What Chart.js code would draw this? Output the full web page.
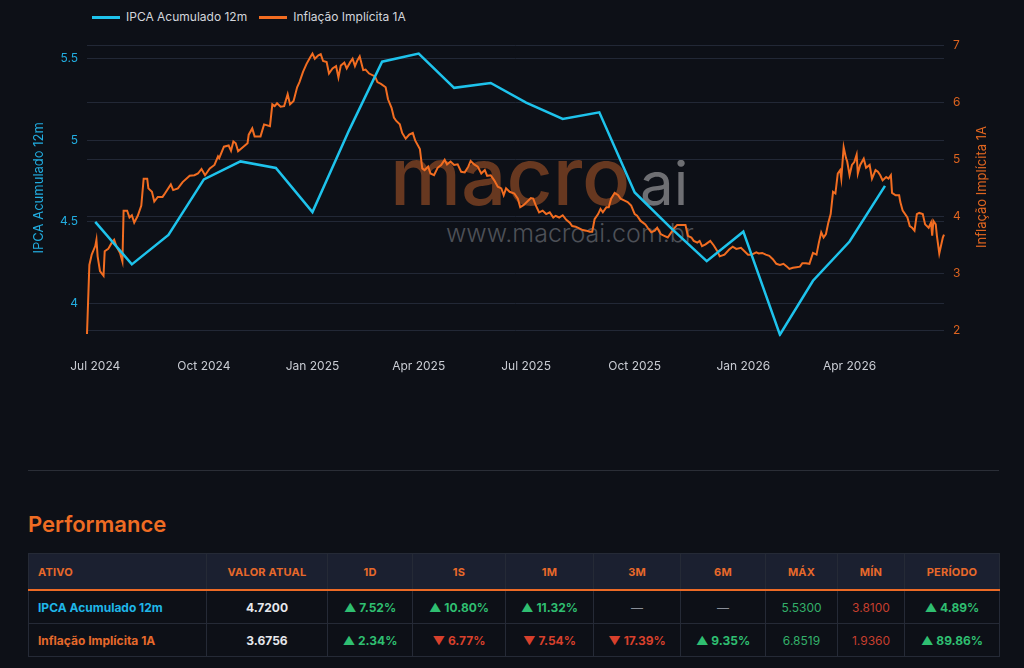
<!DOCTYPE html>
<html lang="pt-BR">
<head>
<meta charset="utf-8">
<title>IPCA Acumulado 12m x Inflação Implícita 1A</title>
<script src="https://cdn.jsdelivr.net/npm/chart.js@4.4.1/dist/chart.umd.min.js"></script>
<style>
  html, body { margin: 0; padding: 0; background: #0d1017; }
  body { width: 1024px; height: 668px; position: relative; overflow: hidden; font-family: Inter, "Noto Sans", sans-serif; }
  #legenda { position: absolute; top: 9px; left: 92px; display: flex; align-items: center; font-size: 12px; line-height: 16px; color: #d3d6dc; }
  #legenda .item { display: flex; align-items: center; margin-right: 12px; }
  #legenda .traco { width: 28px; height: 3px; margin-right: 6px; }
  .marca { position: absolute; line-height: 1; white-space: nowrap; }
  #marcaMacro { left: 390px; top: 136px; font-size: 80px; font-weight: 500; color: #673820; }
  #marcaAi { left: 640px; top: 153px; font-size: 60px; font-weight: 400; color: #6e6f73; }
  #marcaSite { left: 446px; top: 221px; font-size: 25px; font-weight: 300; color: #4d5057; }
  #grafico { position: absolute; left: 0; top: 0; width: 1024px; height: 398px; }
  #tituloDir { position: absolute; left: 981px; top: 187px; transform: translate(-50%, -50%) rotate(-90deg); white-space: nowrap; color: #e0651f; font-size: 13px; }
  #separador { position: absolute; left: 28px; top: 470px; width: 971px; height: 1px; background: #2a2e37; }
  #tituloPerf { position: absolute; left: 28px; top: 513px; margin: 0; font-size: 22px; line-height: 1; font-weight: 600; color: #ef6c23; }
  table { position: absolute; left: 28px; top: 553px; width: 971px; border-collapse: collapse; table-layout: fixed; font-size: 12px; }
  th, td { border: 1px solid #252a36; text-align: center; padding: 0; white-space: nowrap; }
  th { height: 35px; background: #1b2030; color: #e8692a; font-size: 11px; font-weight: 700; letter-spacing: 0.2px; border-bottom: 2px solid #ec6a25; }
  td { height: 32px; font-weight: 700; }
  th.ativo, td.ativo { text-align: left; padding-left: 9px; }
  .ipca { color: #1fb6e8; }
  .impl { color: #e5692b; }
  .valor { color: #e6e8ec; }
  .up { color: #2fbf71; }
  .down { color: #d8402c; }
  .max { color: #33b06a; font-weight: 400; }
  .min { color: #c63f2e; font-weight: 400; }
  .nada { color: #8a8f99; font-weight: 400; }
</style>
</head>
<body>
<div class="marca" id="marcaMacro">macro</div>
<div class="marca" id="marcaAi">ai</div>
<div class="marca" id="marcaSite">www.macroai.com.br</div>

<div id="legenda">
  <div class="item"><span class="traco" style="background:#1ec3ec"></span>IPCA Acumulado 12m</div>
  <div class="item"><span class="traco" style="background:#f26d21"></span>Inflação Implícita 1A</div>
</div>

<div id="grafico"><canvas id="chart"></canvas></div>
<div id="tituloDir">Inflação Implícita 1A</div>

<div id="separador"></div>
<h2 id="tituloPerf">Performance</h2>
<table>
  <colgroup>
    <col style="width:178px"><col style="width:121px"><col style="width:85px"><col style="width:93px"><col style="width:88px">
    <col style="width:87px"><col style="width:85px"><col style="width:72px"><col style="width:67px"><col style="width:95px">
  </colgroup>
  <tr><th class="ativo">ATIVO</th><th>VALOR ATUAL</th><th>1D</th><th>1S</th><th>1M</th><th>3M</th><th>6M</th><th>MÁX</th><th>MÍN</th><th>PERÍODO</th></tr>
  <tr>
    <td class="ativo ipca">IPCA Acumulado 12m</td><td class="valor">4.7200</td>
    <td class="up">▲ 7.52%</td><td class="up">▲ 10.80%</td><td class="up">▲ 11.32%</td>
    <td class="nada">—</td><td class="nada">—</td>
    <td class="max">5.5300</td><td class="min">3.8100</td><td class="up">▲ 4.89%</td>
  </tr>
  <tr>
    <td class="ativo impl">Inflação Implícita 1A</td><td class="valor">3.6756</td>
    <td class="up">▲ 2.34%</td><td class="down">▼ 6.77%</td><td class="down">▼ 7.54%</td>
    <td class="down">▼ 17.39%</td><td class="up">▲ 9.35%</td>
    <td class="max">6.8519</td><td class="min">1.9360</td><td class="up">▲ 89.86%</td>
  </tr>
</table>

<script>
// IPCA acumulado 12 meses (mensal)
const ipcaMeses = ['2024-07-01', '2024-08-01', '2024-09-01', '2024-10-01', '2024-11-01', '2024-12-01',
  '2025-01-01', '2025-02-01', '2025-03-01', '2025-04-01', '2025-05-01', '2025-06-01',
  '2025-07-01', '2025-08-01', '2025-09-01', '2025-10-01', '2025-11-01', '2025-12-01',
  '2026-01-01', '2026-02-01', '2026-03-01', '2026-04-01', '2026-05-01'];
const ipcaValores = [4.50, 4.24, 4.42, 4.76, 4.87, 4.83,
  4.56, 5.06, 5.48, 5.53, 5.32, 5.35,
  5.23, 5.13, 5.17, 4.68, 4.46, 4.26,
  4.44, 3.81, 4.14, 4.38, 4.72];

// Inflação implícita 1 ano (diária) - dias contados a partir de 01/07/2024
const implicitaDias = [-7, -5, -3, 0, 1, 2, 4, 7, 8, 11, 14, 16, 18, 21, 23, 24, 27, 29, 31, 33,
  36, 39, 41, 44, 45, 48, 50, 53, 57, 59, 64, 66, 70, 74, 80, 84, 87, 90, 93, 97,
  101, 104, 105, 109, 113, 115, 117, 119, 121, 125, 129, 130, 133, 135, 140, 143, 148, 150, 152, 154,
  157, 160, 163, 165, 168, 171, 173, 176, 179, 182, 184, 186, 189, 191, 193, 196, 198, 201, 204, 206,
  208, 211, 213, 216, 218, 220, 222, 224, 227, 229, 232, 237, 239, 242, 246, 248, 251, 253, 255, 258,
  260, 263, 266, 269, 271, 275, 277, 279, 282, 284, 287, 290, 293, 296, 298, 301, 304, 307, 310, 313,
  316, 318, 321, 324, 327, 330, 332, 335, 338, 341, 344, 346, 348, 351, 355, 358, 360, 363, 366, 369,
  371, 373, 376, 379, 382, 385, 388, 390, 393, 396, 399, 402, 404, 407, 410, 413, 416, 419, 421, 423,
  426, 428, 430, 433, 435, 437, 440, 443, 445, 448, 451, 454, 457, 459, 462, 466, 468, 471, 474, 476,
  479, 482, 485, 488, 490, 493, 496, 500, 502, 505, 507, 510, 512, 514, 517, 521, 524, 527, 529, 533,
  537, 540, 543, 547, 550, 553, 556, 560, 562, 565, 568, 571, 574, 577, 580, 583, 586, 588, 591, 594,
  597, 599, 602, 605, 608, 611, 613, 615, 617, 619, 621, 623, 625, 627, 629, 631, 632, 634, 636, 637,
  639, 641, 643, 645, 646, 648, 651, 653, 656, 658, 661, 663, 665, 667, 670, 672, 674, 675, 678, 681,
  682, 684, 688, 690, 692, 694, 696, 698, 701, 703, 706, 708, 709, 710, 712, 713, 715, 718, 719];
const implicitaValores = [1.94, 3.15, 3.33, 3.48, 3.59, 3.30, 3.04, 2.96, 3.39, 3.43, 3.54, 3.59, 3.47, 3.36, 3.21, 4.10, 4.10, 3.98, 4.02, 3.89,
  4.01, 4.19, 4.66, 4.66, 4.49, 4.43, 4.26, 4.34, 4.34, 4.40, 4.56, 4.46, 4.49, 4.60, 4.71, 4.72, 4.75, 4.83, 4.72, 4.84,
  4.90, 5.05, 5.02, 5.22, 5.24, 5.15, 5.31, 5.28, 5.14, 5.21, 5.28, 5.43, 5.54, 5.40, 5.40, 5.61, 5.58, 5.96, 5.93, 5.98,
  5.92, 5.93, 6.14, 5.96, 6.02, 6.26, 6.35, 6.53, 6.67, 6.78, 6.85, 6.76, 6.82, 6.84, 6.72, 6.70, 6.50, 6.59, 6.63, 6.43,
  6.64, 6.69, 6.59, 6.70, 6.76, 6.63, 6.73, 6.80, 6.56, 6.57, 6.50, 6.45, 6.35, 6.32, 6.26, 6.05, 5.90, 5.73, 5.67, 5.61,
  5.46, 5.36, 5.43, 5.46, 5.33, 5.18, 4.84, 4.81, 4.87, 4.75, 4.72, 4.85, 4.90, 4.99, 4.91, 4.96, 4.90, 4.91, 4.78, 4.77,
  4.87, 4.97, 4.91, 4.87, 4.75, 4.81, 4.71, 4.72, 4.63, 4.52, 4.49, 4.37, 4.49, 4.43, 4.40, 4.31, 4.16, 4.20, 4.26, 4.32,
  4.31, 4.20, 4.07, 4.10, 4.04, 4.07, 3.98, 4.01, 3.98, 4.02, 3.94, 3.89, 3.83, 3.82, 3.79, 3.76, 3.75, 3.73, 3.73, 3.95,
  4.04, 4.13, 4.07, 4.16, 4.16, 4.31, 4.41, 4.37, 4.31, 4.28, 4.25, 4.19, 4.04, 4.01, 3.92, 3.86, 3.80, 3.72, 3.75, 3.80,
  3.69, 3.66, 3.63, 3.72, 3.78, 3.85, 3.85, 3.85, 3.66, 3.63, 3.57, 3.54, 3.57, 3.48, 3.51, 3.57, 3.49, 3.39, 3.30, 3.33,
  3.42, 3.47, 3.43, 3.45, 3.39, 3.33, 3.33, 3.37, 3.35, 3.36, 3.33, 3.31, 3.25, 3.17, 3.15, 3.17, 3.12, 3.08, 3.10, 3.11,
  3.12, 3.18, 3.18, 3.17, 3.36, 3.33, 3.54, 3.72, 3.63, 3.69, 3.89, 4.04, 4.43, 4.40, 4.75, 4.81, 4.66, 5.21, 5.02, 4.96,
  4.72, 4.90, 4.95, 5.08, 4.75, 4.90, 5.01, 4.85, 4.90, 4.66, 4.81, 4.78, 4.72, 4.63, 4.69, 4.66, 4.72, 4.41, 4.37, 4.37,
  4.25, 4.10, 3.98, 3.83, 3.80, 3.75, 4.04, 4.06, 4.04, 3.86, 3.80, 3.89, 3.66, 3.92, 3.86, 3.66, 3.35, 3.63, 3.68];

// marcas do eixo x e dos eixos y
const xTickDatas = ['2024-07-01', '2024-10-01', '2025-01-01', '2025-04-01', '2025-07-01', '2025-10-01', '2026-01-01', '2026-04-01'];
const xTickRotulos = ['Jul 2024', 'Oct 2024', 'Jan 2025', 'Apr 2025', 'Jul 2025', 'Oct 2025', 'Jan 2026', 'Apr 2026'];
const ipcaTicks = [4, 4.5, 5, 5.5];
const implicitaTicks = [2, 3, 4, 5, 6, 7];

const BASE = Date.parse('2024-07-01');
function diaDe(iso) { return Math.round((Date.parse(iso) - BASE) / 86400000); }
const xTickDias = xTickDatas.map(diaDe);

const AZUL = '#1ec3ec';
const LARANJA = '#f26d21';
const GRADE = '#222836';

Chart.defaults.font.family = 'Inter, "Noto Sans", sans-serif';

const ctx = document.getElementById('chart').getContext('2d');
new Chart(ctx, {
  type: 'line',
  data: {
    datasets: [{
      label: 'IPCA Acumulado 12m',
      data: ipcaMeses.map((m, i) => ({ x: diaDe(m), y: ipcaValores[i] })),
      yAxisID: 'y',
      borderColor: AZUL,
      backgroundColor: AZUL,
      borderWidth: 2.5,
      pointRadius: 0,
      tension: 0,
      clip: 6
    }, {
      label: 'Inflação Implícita 1A',
      data: implicitaDias.map((d, i) => ({ x: d, y: implicitaValores[i] })),
      yAxisID: 'y1',
      borderColor: LARANJA,
      backgroundColor: LARANJA,
      borderWidth: 2,
      pointRadius: 0,
      tension: 0,
      clip: 6
    }]
  },
  options: {
    responsive: true,
    maintainAspectRatio: false,
    animation: false,
    layout: { padding: { top: 45, left: 27, right: 0, bottom: 3 } },
    plugins: {
      legend: { display: false }, // legenda em HTML
      tooltip: { enabled: false }
    },
    scales: {
      x: {
        type: 'linear',
        min: implicitaDias[0],
        max: implicitaDias[implicitaDias.length - 1],
        grid: { display: false },
        border: { display: false },
        afterBuildTicks: scale => { scale.ticks = xTickDias.map(v => ({ value: v })); },
        ticks: {
          autoSkip: false,
          maxRotation: 0,
          padding: 21,
          color: '#c9ccd3',
          font: { size: 12 },
          callback: value => xTickRotulos[xTickDias.indexOf(value)]
        }
      },
      y: {
        position: 'left',
        min: 3.835,
        max: 5.582,
        afterBuildTicks: scale => { scale.ticks = ipcaTicks.map(v => ({ value: v })); },
        afterFit: scale => { scale.width = 60; },
        grid: { color: GRADE, drawTicks: false },
        border: { display: false },
        ticks: { padding: 9, color: '#22ade0', font: { size: 12 }, callback: v => String(v) },
        title: { display: true, text: 'IPCA Acumulado 12m', color: '#22ade0', font: { size: 13 }, padding: { top: 4, bottom: 4 } }
      },
      y1: {
        position: 'right',
        min: 2,
        max: 7,
        afterBuildTicks: scale => { scale.ticks = implicitaTicks.map(v => ({ value: v })); },
        afterFit: scale => { scale.width = 80; },
        grid: { color: GRADE, drawTicks: false },
        border: { display: false },
        ticks: { padding: 9, color: '#dc631f', font: { size: 12 }, callback: v => String(v) }
      }
    }
  }
});
</script>
</body>
</html>
